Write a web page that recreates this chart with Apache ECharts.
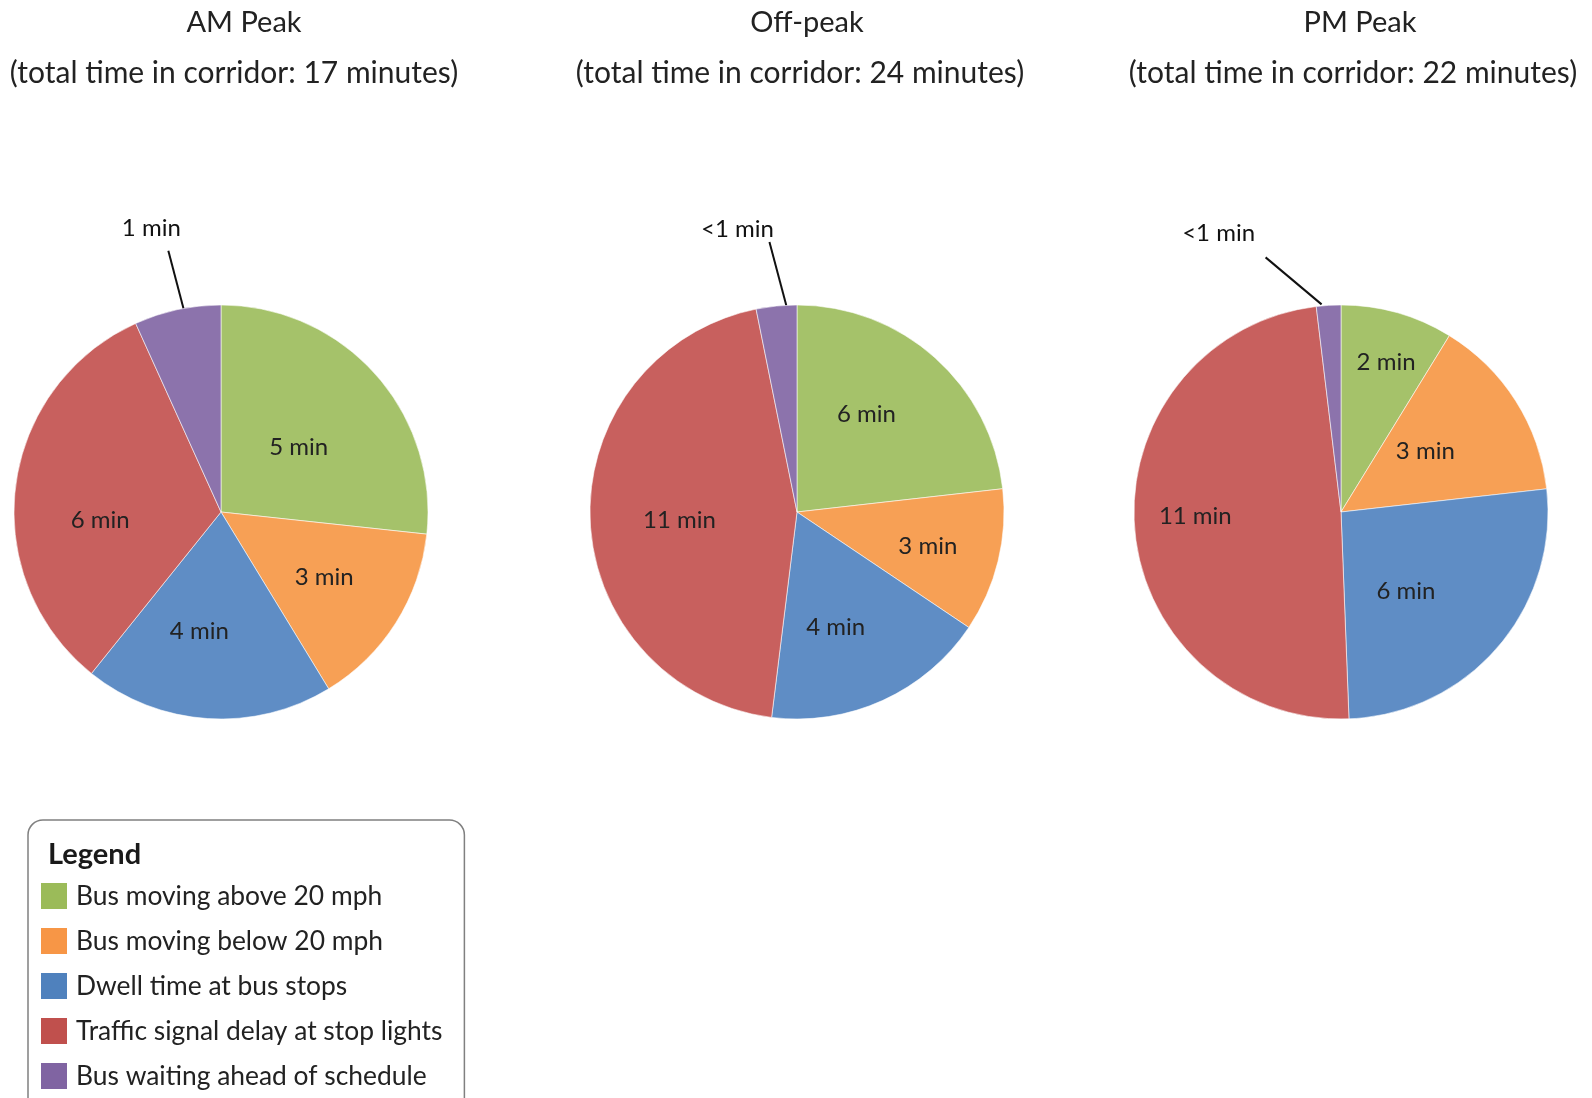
<!DOCTYPE html>
<html>
<head>
<meta charset="utf-8">
<script src="https://cdn.jsdelivr.net/npm/echarts@6/dist/echarts.min.js"></script>
<style>
html,body{margin:0;padding:0;background:#ffffff;}
#chart{width:1592px;height:1098px;}
</style>
</head>
<body>
<div id="chart"></div>
<script>
// ---------------- data ----------------
const categories = [
  'Bus moving above 20 mph',
  'Bus moving below 20 mph',
  'Dwell time at bus stops',
  'Traffic signal delay at stop lights',
  'Bus waiting ahead of schedule'
];
const periodTitles = ['AM Peak', 'Off-peak', 'PM Peak'];
const periodSubtitles = [
  '(total time in corridor: 17 minutes)',
  '(total time in corridor: 24 minutes)',
  '(total time in corridor: 22 minutes)'
];
// minutes
const amValues  = [4.54, 2.48, 3.31, 5.52, 1.15];
const offValues = [5.57, 2.69, 4.21, 10.77, 0.76];
const pmValues  = [1.93, 3.18, 5.76, 10.72, 0.42];
// slice labels as printed
const amLabels  = ['5 min', '3 min', '4 min', '6 min', '1 min'];
const offLabels = ['6 min', '3 min', '4 min', '11 min', '<1 min'];
const pmLabels  = ['2 min', '3 min', '6 min', '11 min', '<1 min'];

// ---------------- style / layout ----------------
const FONT = 'Lato, "Open Sans", sans-serif';
const TEXT = '#222222';
const pieColors = ['#A5C26A', '#F7A055', '#5F8DC5', '#C8605E', '#8C73AC'];
const legendColors = ['#9BBB59', '#F79646', '#4F81BD', '#C0504D', '#8064A2'];
const R = 207;

const layouts = [
  { center: [221, 512], titleX: 244, subX: 234,
    inner: [[0.49, 2], [0.59, 0], [0.585, 6.6], [0.585, -10.9]],
    lineStart: [7, 2], lineVec: [-16, -61], textOff: [-17, -22] },
  { center: [797, 512], titleX: 807, subX: 800,
    inner: [[0.578, -6.3], [0.653, 0.8], [0.586, 5.9], [0.569, -1.8]],
    lineStart: [10, 0], lineVec: [-17, -64], textOff: [-32, -13] },
  { center: [1341, 512], titleX: 1360, subX: 1353,
    inner: [[0.754, 1], [0.503, -3.5], [0.496, 10.1], [0.704, 3]],
    lineStart: [-7, -1], lineVec: [-56, -47], textOff: [-47, -24] }
];

const valueSets = [amValues, offValues, pmValues];
const labelSets = [amLabels, offLabels, pmLabels];

function makeSeries(k) {
  const lay = layouts[k];
  const cx = lay.center[0], cy = lay.center[1];
  const vals = valueSets[k], labs = labelSets[k];
  const last = vals.length - 1;
  return {
    type: 'pie',
    name: periodTitles[k],
    center: lay.center,
    radius: [0, R],
    startAngle: 90,
    clockwise: true,
    silent: true,
    animation: false,
    avoidLabelOverlap: false,
    itemStyle: { borderColor: 'rgba(255,255,255,0.7)', borderWidth: 0.8 },
    label: {
      show: true,
      position: 'inside',
      fontFamily: FONT,
      fontSize: 24,
      color: TEXT,
      formatter: p => labs[p.dataIndex]
    },
    labelLine: { show: false },
    labelLayout: function (params) {
      const lr = params.labelRect;
      if (params.dataIndex === last) {
        const pts = params.labelLinePoints;
        if (!pts) return {};
        const s = [pts[0][0] + lay.lineStart[0], pts[0][1] + lay.lineStart[1]];
        const e = [s[0] + lay.lineVec[0], s[1] + lay.lineVec[1]];
        return {
          x: e[0] + lay.textOff[0],
          y: e[1] + lay.textOff[1],
          align: 'center',
          verticalAlign: 'middle',
          labelLinePoints: [s, e, e]
        };
      }
      const lx = lr.x + lr.width / 2, ly = lr.y + lr.height / 2;
      const mid = Math.atan2(lx - cx, -(ly - cy));
      const cfg = lay.inner[params.dataIndex];
      const a = mid + cfg[1] * Math.PI / 180;
      const d = cfg[0] * R;
      return { x: cx + d * Math.sin(a), y: cy - d * Math.cos(a), align: 'center', verticalAlign: 'middle' };
    },
    data: vals.map((v, i) => {
      const item = { name: categories[i], value: v, itemStyle: { color: pieColors[i] } };
      if (i === last) {
        item.label = { position: 'outside', color: '#111111' };
        item.labelLine = { show: true, length: 40, length2: 0, lineStyle: { color: '#111111', width: 2 } };
      }
      return item;
    })
  };
}

const titles = [];
for (let k = 0; k < 3; k++) {
  titles.push({
    text: periodTitles[k], left: layouts[k].titleX, top: 8, textAlign: 'center', padding: 0,
    textStyle: { fontFamily: FONT, fontSize: 29, fontWeight: 'normal', color: TEXT }
  });
  titles.push({
    text: periodSubtitles[k], left: layouts[k].subX, top: 58.5, textAlign: 'center', padding: 0,
    textStyle: { fontFamily: FONT, fontSize: 30, fontWeight: 'normal', color: TEXT }
  });
}
titles.push({
  text: 'Legend', left: 48, top: 840, padding: 0,
  textStyle: { fontFamily: FONT, fontSize: 29, fontWeight: 'bold', color: '#1a1a1a' }
});

const option = {
  backgroundColor: '#ffffff',
  animation: false,
  title: titles,
  legend: {
    orient: 'vertical',
    left: 28,
    top: 820,
    height: 400,
    padding: [63, 22, 30, 13],
    itemWidth: 26,
    itemHeight: 26,
    itemGap: 19,
    icon: 'rect',
    selectedMode: false,
    borderColor: '#808080',
    borderWidth: 1.5,
    borderRadius: 15,
    backgroundColor: '#ffffff',
    textStyle: { fontFamily: FONT, fontSize: 26.4, color: TEXT, padding: [0, 0, 0, 4] },
    data: categories.map((n, i) => ({ name: n, itemStyle: { color: legendColors[i], borderWidth: 0 } }))
  },
  series: [makeSeries(0), makeSeries(1), makeSeries(2)]
};

const chart = echarts.init(document.getElementById('chart'), null, { renderer: 'canvas' });
chart.setOption(option);
</script>
</body>
</html>
